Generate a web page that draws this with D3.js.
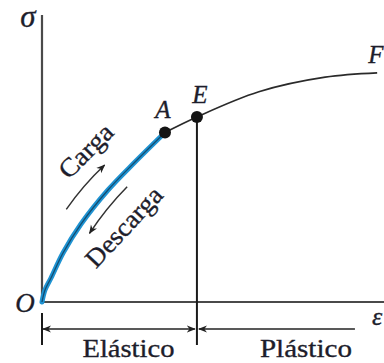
<!DOCTYPE html>
<html>
<head>
<meta charset="utf-8">
<script src="https://cdn.jsdelivr.net/npm/d3@7"></script>
<style>
  html, body { margin: 0; padding: 0; background: #fff; }
  svg { display: block; }
  text { font-family: "Liberation Serif", "Times New Roman", serif; fill: #1d1d2b; stroke: #1d1d2b; stroke-width: 0.35px; }
</style>
</head>
<body>
<svg id="chart" width="384" height="363"></svg>
<script>
// Stress–strain curve: nonlinear elastic loading (O→A), then plastic flow (E→F)
const elasticStrain = [0, 0.88, 2.63, 6.14, 11.4, 19.3, 27.19, 35.96];
const elasticStress = [0, 4.2, 8.39, 17.13, 27.27, 39.16, 48.95, 59.27];
const plasticStrain = [35.96, 45.3, 63.4, 82.8, 98.0];
const plasticStress = [59.27, 64.7, 73.5, 78.6, 80.1];

const pointLabels = ["A", "E"];
const pointStrain = [35.96, 45.3];
const pointStress = [59.27, 64.7];

const regionLabels = ["Elástico", "Plástico"];
const regionBounds = [0, 45.3, 91.5];

const svg = d3.select("#chart");

const x = d3.scaleLinear().domain([0, 100]).range([42, 384]);
const y = d3.scaleLinear().domain([0, 100]).range([302, 16]);

const defs = svg.append("defs");
defs.append("marker")
  .attr("id", "head")
  .attr("viewBox", "0 0 10 10")
  .attr("refX", 9).attr("refY", 5)
  .attr("markerWidth", 9).attr("markerHeight", 9)
  .attr("markerUnits", "userSpaceOnUse")
  .attr("orient", "auto-start-reverse")
  .append("path")
  .attr("d", "M0,1 L10,5 L0,9 L3,5 Z")
  .attr("fill", "#222");

// Axes
svg.append("line")
  .attr("x1", x(0)).attr("x2", x(0))
  .attr("y1", y(0)).attr("y2", y(100) - 1)
  .attr("stroke", "#4a4a4a").attr("stroke-width", 2.2);
svg.append("line")
  .attr("x1", x(0)).attr("x2", x(100))
  .attr("y1", y(0)).attr("y2", y(0))
  .attr("stroke", "#4a4a4a").attr("stroke-width", 2.2);

// Boundary between regions, dropped from E
svg.append("line")
  .attr("x1", x(regionBounds[1])).attr("x2", x(regionBounds[1]))
  .attr("y1", y(pointStress[1])).attr("y2", y(0) + 43)
  .attr("stroke", "#1a1a1a").attr("stroke-width", 2);

// Tick at the origin for the dimension line
svg.append("line")
  .attr("x1", x(0)).attr("x2", x(0))
  .attr("y1", y(0) + 11).attr("y2", y(0) + 43)
  .attr("stroke", "#1a1a1a").attr("stroke-width", 2);

// Dimension lines for the two regions
const dimY = y(0) + 27;
svg.append("line")
  .attr("x1", x(regionBounds[0]) + 1).attr("x2", x(regionBounds[1]) - 2)
  .attr("y1", dimY).attr("y2", dimY)
  .attr("stroke", "#222").attr("stroke-width", 1.6)
  .attr("marker-start", "url(#head)")
  .attr("marker-end", "url(#head)");
svg.append("line")
  .attr("x1", x(regionBounds[1]) + 2).attr("x2", x(regionBounds[2]))
  .attr("y1", dimY).attr("y2", dimY)
  .attr("stroke", "#222").attr("stroke-width", 1.6)
  .attr("marker-start", "url(#head)");

svg.selectAll("text.region")
  .data(regionLabels)
  .join("text")
  .attr("class", "region")
  .attr("x", (d, i) => i === 0 ? (x(regionBounds[0]) + x(regionBounds[1])) / 2 + 9 : (x(regionBounds[1]) + x(regionBounds[2])) / 2 + 30)
  .attr("y", 357)
  .attr("text-anchor", "middle")
  .attr("font-size", 26)
  .attr("textLength", 92)
  .attr("lengthAdjust", "spacingAndGlyphs")
  .text(d => d);

// Plastic part of the curve
const line = d3.line().x(d => x(d[0])).y(d => y(d[1])).curve(d3.curveCatmullRom.alpha(0.5));
const plastic = plasticStrain.map((v, i) => [v, plasticStress[i]]);
svg.append("path")
  .attr("d", line(plastic))
  .attr("fill", "none")
  .attr("stroke", "#2a2a2a")
  .attr("stroke-width", 1.7);

// Elastic part of the curve
const elastic = elasticStrain.map((v, i) => [v, elasticStress[i]]);
svg.append("path")
  .attr("d", line(elastic))
  .attr("fill", "none")
  .attr("stroke", "#1f93d2")
  .attr("stroke-width", 5)
  .attr("stroke-linecap", "round");
svg.append("path")
  .attr("d", line(elastic))
  .attr("fill", "none")
  .attr("stroke", "#0d2f48")
  .attr("stroke-opacity", 0.7)
  .attr("stroke-width", 1.3);

// Loading / unloading arrows beside the elastic branch
function arc(p0, p1, bend) {
  const a = [x(p0[0]), y(p0[1])], b = [x(p1[0]), y(p1[1])];
  const mx = (a[0] + b[0]) / 2, my = (a[1] + b[1]) / 2;
  const dx = b[0] - a[0], dy = b[1] - a[1], len = Math.hypot(dx, dy);
  const cx = mx + (-dy / len) * bend, cy = my + (dx / len) * bend;
  return `M${a[0]},${a[1]} Q${cx},${cy} ${b[0]},${b[1]}`;
}
svg.append("path")
  .attr("d", arc([7.1, 32.4], [18.3, 47.9], -3))
  .attr("fill", "none").attr("stroke", "#333").attr("stroke-width", 1.5)
  .attr("marker-end", "url(#head)");
svg.append("path")
  .attr("d", arc([24.9, 40.3], [13.9, 24.0], 3))
  .attr("fill", "none").attr("stroke", "#333").attr("stroke-width", 1.5)
  .attr("marker-end", "url(#head)");

svg.append("text")
  .attr("transform", "translate(86,151) rotate(-45)")
  .attr("text-anchor", "middle").attr("dominant-baseline", "central")
  .attr("font-size", 26)
  .attr("textLength", 66).attr("lengthAdjust", "spacingAndGlyphs")
  .text("Carga");
svg.append("text")
  .attr("transform", "translate(124,227) rotate(-47)")
  .attr("text-anchor", "middle").attr("dominant-baseline", "central")
  .attr("font-size", 26)
  .attr("textLength", 100).attr("lengthAdjust", "spacingAndGlyphs")
  .text("Descarga");

// Marked points
svg.selectAll("circle.pt")
  .data(pointLabels)
  .join("circle")
  .attr("class", "pt")
  .attr("cx", (d, i) => x(pointStrain[i]))
  .attr("cy", (d, i) => y(pointStress[i]))
  .attr("r", 6)
  .attr("fill", "#141414");
svg.selectAll("text.pt")
  .data(pointLabels)
  .join("text")
  .attr("class", "pt")
  .attr("x", (d, i) => x(pointStrain[i]) + (i === 0 ? -2 : 3))
  .attr("y", (d, i) => y(pointStress[i]) - 14)
  .attr("text-anchor", "middle")
  .attr("font-size", 25)
  .attr("font-style", "italic")
  .text(d => d);

// End label and axis symbols
svg.append("text")
  .attr("x", x(plasticStrain[plasticStrain.length - 1]) - 9)
  .attr("y", y(plasticStress[plasticStress.length - 1]) - 10)
  .attr("font-size", 25).attr("font-style", "italic")
  .text("F");
svg.append("text")
  .attr("x", 28).attr("y", 27)
  .attr("text-anchor", "middle")
  .attr("font-size", 31).attr("font-style", "italic")
  .text("σ");
svg.append("text")
  .attr("x", 25).attr("y", 312)
  .attr("text-anchor", "middle")
  .attr("font-size", 27).attr("font-style", "italic")
  .text("O");
svg.append("text")
  .attr("x", 372).attr("y", 325)
  .attr("font-size", 26).attr("font-style", "italic")
  .text("ε");
</script>
</body>
</html>
